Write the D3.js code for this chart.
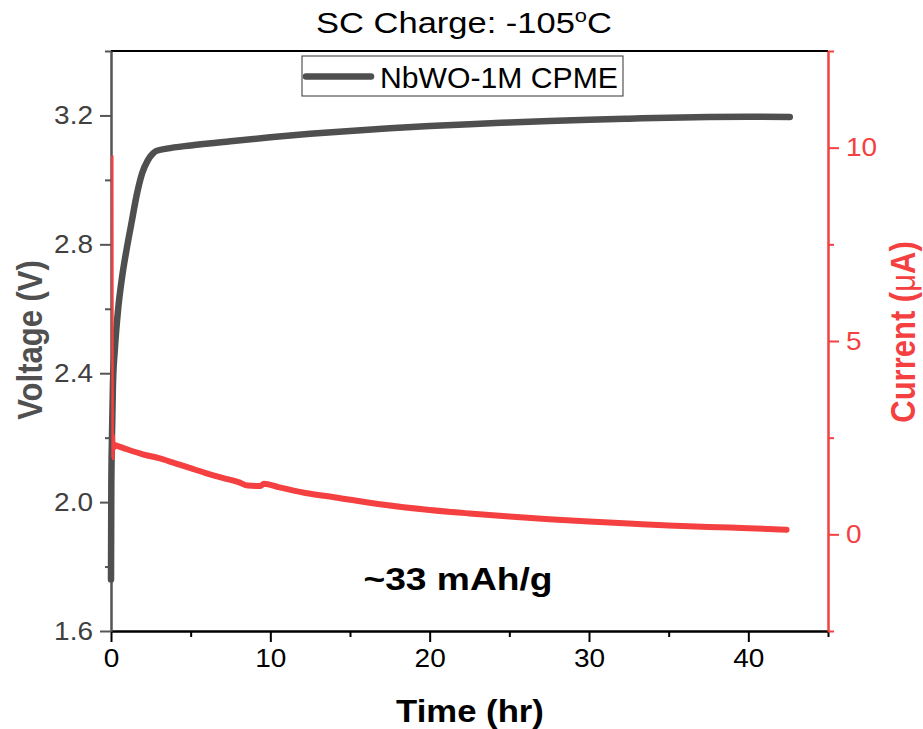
<!DOCTYPE html>
<html>
<head>
<meta charset="utf-8">
<script src="https://cdn.jsdelivr.net/npm/d3@7"></script>
<style>
  html, body { margin: 0; padding: 0; background: #fff; }
  svg text { font-family: "Liberation Sans", Arial, sans-serif; }
</style>
</head>
<body>
<svg id="chart" width="923" height="729"></svg>
<script>
// Charge curve at -105 °C: voltage (left axis) and current (right axis) vs time
const voltageTime = [0, 0.02, 0.06, 0.12, 0.25, 0.45, 0.7, 1.0, 1.3, 1.6, 1.95, 2.3, 2.6, 2.85, 3.5, 5, 7.5, 10, 12.5, 15, 17.5, 20, 22.5, 25, 27.5, 30, 32.5, 35, 37.5, 40, 42.6];
const voltage     = [1.76, 2.05, 2.2, 2.36, 2.48, 2.6, 2.7, 2.79, 2.87, 2.95, 3.02, 3.06, 3.08, 3.09, 3.097, 3.107, 3.12, 3.132, 3.143, 3.152, 3.16, 3.167, 3.173, 3.178, 3.183, 3.187, 3.19, 3.193, 3.195, 3.196, 3.195];

const currentTime = [0.3, 1, 2, 3, 3.8, 5, 5.9, 7, 8, 8.6, 9.4, 9.6, 10.5, 12.2, 14, 17, 20, 22.5, 25, 27.5, 30, 32.5, 35, 37.5, 40, 42.4];
const current     = [2.3, 2.2, 2.07, 1.97, 1.87, 1.71, 1.59, 1.46, 1.35, 1.26, 1.25, 1.31, 1.22, 1.07, 0.96, 0.77, 0.63, 0.54, 0.46, 0.39, 0.33, 0.28, 0.23, 0.19, 0.16, 0.12];

// initial current transient at the start of charging
const spikeTime    = [0.08, 0.09, 0.1, 0.12, 0.14, 0.17, 0.22, 0.3];
const spikeCurrent = [9.8, 6.0, 2.0, 2.6, 1.95, 2.55, 2.2, 2.3];

const timeTicks    = [0, 10, 20, 30, 40];
const voltageTicks = [1.6, 2.0, 2.4, 2.8, 3.2];
const currentTicks = [0, 5, 10];

const seriesName = "NbWO-1M CPME";
const capacityNote = "~33 mAh/g";

const grayLine = "#4f4f4f";
const red = "#f44040";
const WIDE = 1.12; // horizontal stretch applied to all lettering

const svg = d3.select("#chart");
const m = { left: 111, right: 828, top: 51, bottom: 631 };

const x = d3.scaleLinear().domain([0, 45]).range([m.left, m.right]);
const yV = d3.scaleLinear().domain([1.6, 3.4]).range([m.bottom, m.top]);
const yI = d3.scaleLinear().domain([-2.5, 12.5]).range([m.bottom, m.top]);

// place a text at (px, py) with the horizontal stretch, optional rotation
function label(px, py, rot, sx) {
  const t = svg.append("text");
  const s = sx || WIDE;
  t.attr("transform", rot
    ? `translate(${px},${py}) rotate(${rot}) scale(1,${s})`
    : `translate(${px},${py}) scale(${s},1)`);
  return t;
}

// frame top line
svg.append("line")
  .attr("x1", m.left).attr("x2", m.right)
  .attr("y1", m.top).attr("y2", m.top)
  .attr("stroke", "#000").attr("stroke-width", 2);

function styleAxis(g, color, size) {
  g.selectAll("path.domain").attr("stroke", color).attr("stroke-width", 2);
  g.selectAll(".tick line").attr("stroke", color).attr("stroke-width", 2);
  g.selectAll(".tick text").attr("fill", color).style("font-size", (size || 25) + "px")
    .each(function () {
      const el = d3.select(this);
      const px = +el.attr("x") || 0;
      el.attr("x", px / WIDE).attr("transform", `scale(${WIDE},1)`);
    });
}

// bottom axis
const xMinor = d3.range(5, 46, 10);
const gxMinor = svg.append("g").attr("transform", `translate(0,${m.bottom})`)
  .call(d3.axisBottom(x).tickValues(xMinor).tickSize(6).tickFormat("").tickSizeOuter(0));
styleAxis(gxMinor, "#000");
const gx = svg.append("g").attr("transform", `translate(0,${m.bottom})`)
  .call(d3.axisBottom(x).tickValues(timeTicks).tickSize(11).tickPadding(7).tickSizeOuter(0).tickFormat(d3.format("d")));
styleAxis(gx, "#000");

// left axis
const vMinor = [1.8, 2.2, 2.6, 3.0, 3.4];
const gyMinor = svg.append("g").attr("transform", `translate(${m.left},0)`)
  .call(d3.axisLeft(yV).tickValues(vMinor).tickSize(6).tickFormat("").tickSizeOuter(0));
styleAxis(gyMinor, "#555");
const gy = svg.append("g").attr("transform", `translate(${m.left},0)`)
  .call(d3.axisLeft(yV).tickValues(voltageTicks).tickSize(11).tickPadding(7).tickSizeOuter(0).tickFormat(d3.format(".1f")));
styleAxis(gy, "#555");
gy.selectAll(".tick text").attr("fill", "#404040");

// right axis
const iMinor = [-2.5, 2.5, 7.5, 12.5];
const grMinor = svg.append("g").attr("transform", `translate(${m.right},0)`)
  .call(d3.axisRight(yI).tickValues(iMinor).tickSize(6).tickFormat("").tickSizeOuter(0));
styleAxis(grMinor, red);
const gr = svg.append("g").attr("transform", `translate(${m.right},0)`)
  .call(d3.axisRight(yI).tickValues(currentTicks).tickSize(11).tickPadding(7).tickSizeOuter(0).tickFormat(d3.format("d")));
styleAxis(gr, red);

// data lines
const vLine = d3.line().x((d, i) => x(voltageTime[i])).y(d => yV(d)).curve(d3.curveMonotoneX);
const iLine = d3.line().x((d, i) => x(currentTime[i])).y(d => yI(d)).curve(d3.curveMonotoneX);
const sLine = d3.line().x((d, i) => x(spikeTime[i])).y(d => yI(d));

svg.append("path").datum(current)
  .attr("d", iLine).attr("fill", "none").attr("stroke", red)
  .attr("stroke-width", 6).attr("stroke-linecap", "round").attr("stroke-linejoin", "round");
svg.append("path").datum(voltage)
  .attr("d", vLine).attr("fill", "none").attr("stroke", grayLine)
  .attr("stroke-width", 6.5).attr("stroke-linecap", "round").attr("stroke-linejoin", "round");
svg.append("path").datum(spikeCurrent)
  .attr("d", sLine).attr("fill", "none").attr("stroke", red)
  .attr("stroke-width", 2.5).attr("stroke-linejoin", "round");

// legend
const lg = svg.append("g");
lg.append("rect").attr("x", 302).attr("y", 56).attr("width", 321).attr("height", 40)
  .attr("fill", "#fff").attr("stroke", "#333").attr("stroke-width", 1);
lg.append("line").attr("x1", 306).attr("x2", 371).attr("y1", 76.5).attr("y2", 76.5)
  .attr("stroke", grayLine).attr("stroke-width", 6.5).attr("stroke-linecap", "round");
label(380, 88, 0, 1.04).style("font-size", "29px").attr("fill", "#000").text(seriesName);

// title
const title = label(464, 33, 0, 1.15).attr("text-anchor", "middle")
  .style("font-size", "30px").attr("fill", "#000");
title.append("tspan").text("SC Charge: -105");
title.append("tspan").attr("dy", -11).style("font-size", "19px").text("o");
title.append("tspan").attr("dy", 11).text("C");

// axis titles
label(470, 722).attr("text-anchor", "middle")
  .style("font-size", "31px").style("font-weight", "bold").attr("fill", "#000").text("Time (hr)");

label(42, 340, -90).attr("text-anchor", "middle")
  .style("font-size", "31px").style("font-weight", "bold").attr("fill", "#505050").text("Voltage (V)");

const ct = label(915, 332, -90).attr("text-anchor", "middle")
  .style("font-size", "31px").style("font-weight", "bold").attr("fill", red);
ct.append("tspan").text("Current (");
ct.append("tspan").style("font-weight", "normal").text("\u03bc");
ct.append("tspan").text("A)");

// capacity annotation
label(458, 590, 0, 1.2).attr("text-anchor", "middle")
  .style("font-size", "31px").style("font-weight", "bold").attr("fill", "#000").text(capacityNote);
</script>
</body>
</html>
